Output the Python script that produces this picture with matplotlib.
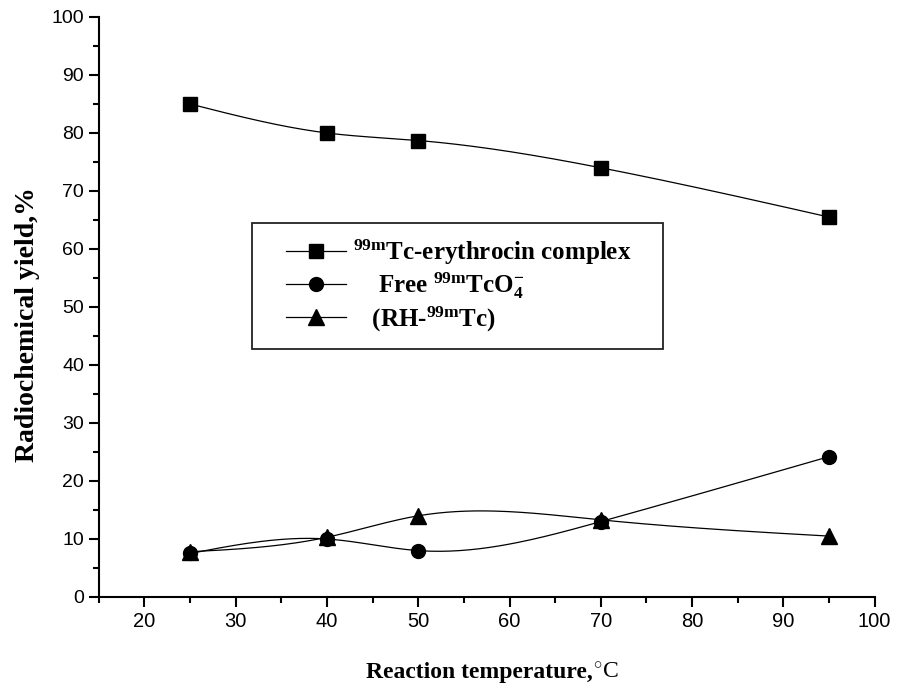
import matplotlib
matplotlib.use("Agg")
import matplotlib.pyplot as plt
from matplotlib.patches import Rectangle
import numpy as np

temperature = [25, 40, 50, 70, 95]
complex_yield = [85.0, 80.0, 78.7, 74.0, 65.5]
free_tco4 = [7.5, 10.0, 8.0, 13.0, 24.2]
reduced_tc = [7.8, 10.3, 14.0, 13.3, 10.5]

x_ticks = [20, 30, 40, 50, 60, 70, 80, 90, 100]
y_ticks = [0, 10, 20, 30, 40, 50, 60, 70, 80, 90, 100]

labels = [
    r"${}^{\mathrm{99m}}$Tc-erythrocin complex",
    r"    Free ${}^{\mathrm{99m}}$TcO$_{4}^{-}$",
    r"   (RH-${}^{\mathrm{99m}}$Tc)",
]
markers = ["s", "o", "^"]
marker_sizes = [9.5, 10, 11]


def natural_spline(x, y, n=200):
    # smooth connecting line like Origin's spline
    x = np.asarray(x, float)
    y = np.asarray(y, float)
    k = len(x)
    h = np.diff(x)
    a = np.zeros((k, k))
    b = np.zeros(k)
    a[0, 0] = a[-1, -1] = 1
    for i in range(1, k - 1):
        a[i, i - 1] = h[i - 1]
        a[i, i] = 2 * (h[i - 1] + h[i])
        a[i, i + 1] = h[i]
        b[i] = 6 * ((y[i + 1] - y[i]) / h[i] - (y[i] - y[i - 1]) / h[i - 1])
    m = np.linalg.solve(a, b)
    xs = np.linspace(x[0], x[-1], n)
    idx = np.clip(np.searchsorted(x, xs) - 1, 0, k - 2)
    x0, x1 = x[idx], x[idx + 1]
    hh = x1 - x0
    t0, t1 = x1 - xs, xs - x0
    ys = (m[idx] * t0**3 + m[idx + 1] * t1**3) / (6 * hh) \
        + (y[idx] / hh - m[idx] * hh / 6) * t0 \
        + (y[idx + 1] / hh - m[idx + 1] * hh / 6) * t1
    return xs, ys


plt.rcParams["mathtext.fontset"] = "custom"
plt.rcParams["mathtext.rm"] = "Liberation Serif:bold"
plt.rcParams["mathtext.bf"] = "Liberation Serif:bold"
plt.rcParams["mathtext.it"] = "Liberation Serif:bold"

fig = plt.figure(figsize=(8.98, 6.98), dpi=100)
ax = fig.add_axes([0.110, 0.1447, 0.864, 0.831])

for series, label, mk, ms in zip([complex_yield, free_tco4, reduced_tc], labels, markers, marker_sizes):
    xs, ys = natural_spline(temperature, series)
    ax.plot(xs, ys, color="black", linewidth=0.9)
    ax.plot(temperature, series, linestyle="none", marker=mk, markersize=ms, color="black")
    ax.plot([], [], color="black", linewidth=0.9, marker=mk, markersize=ms, label=label)

ax.set_xlim(15, 100)
ax.set_ylim(0, 100)
ax.set_xticks(x_ticks)
ax.set_yticks(y_ticks)
ax.set_xticks(np.arange(15, 100, 5), minor=True)
ax.set_yticks(np.arange(5, 100, 10), minor=True)
for side in ["top", "right"]:
    ax.spines[side].set_visible(False)
for side in ["left", "bottom"]:
    ax.spines[side].set_linewidth(1.5)
ax.tick_params(which="major", direction="out", length=7, width=1.5)
ax.tick_params(which="minor", direction="out", length=4, width=1.5)
for lab in ax.get_yticklabels():
    lab.set_fontfamily(["Liberation Sans", "DejaVu Sans"])
    lab.set_fontsize(14)
for lab in ax.get_xticklabels():
    lab.set_fontfamily(["Liberation Sans Narrow", "Liberation Sans", "DejaVu Sans"])
    lab.set_fontsize(14.5)

# legend box drawn separately so its edges sit where the original has them
ax.add_patch(Rectangle((0.198, 0.428), 0.529, 0.217, transform=ax.transAxes,
                       facecolor="white", edgecolor="#222222", linewidth=1.3, zorder=4))
leg = ax.legend(
    loc="upper left",
    bbox_to_anchor=(0.241, 0.620),
    prop={"family": "Liberation Serif", "weight": "bold", "size": 18},
    frameon=False,
    handlelength=2.4,
    handletextpad=0.3,
    labelspacing=0.15,
    borderpad=0,
    borderaxespad=0,
)
leg.set_zorder(5)

fig.text(0.031, 0.535, "Radiochemical yield,%", rotation=90, ha="center", va="center",
         family="Liberation Serif", weight="bold", fontsize=20)
fig.text(0.66, 0.028, "Reaction temperature,", ha="right", va="baseline",
         family="Liberation Serif", weight="bold", fontsize=17)
fig.text(0.66, 0.028, r"$^{\circ}$C", ha="left", va="baseline",
         family="Liberation Serif", fontsize=17)

fig.savefig("out.png", dpi=100)
